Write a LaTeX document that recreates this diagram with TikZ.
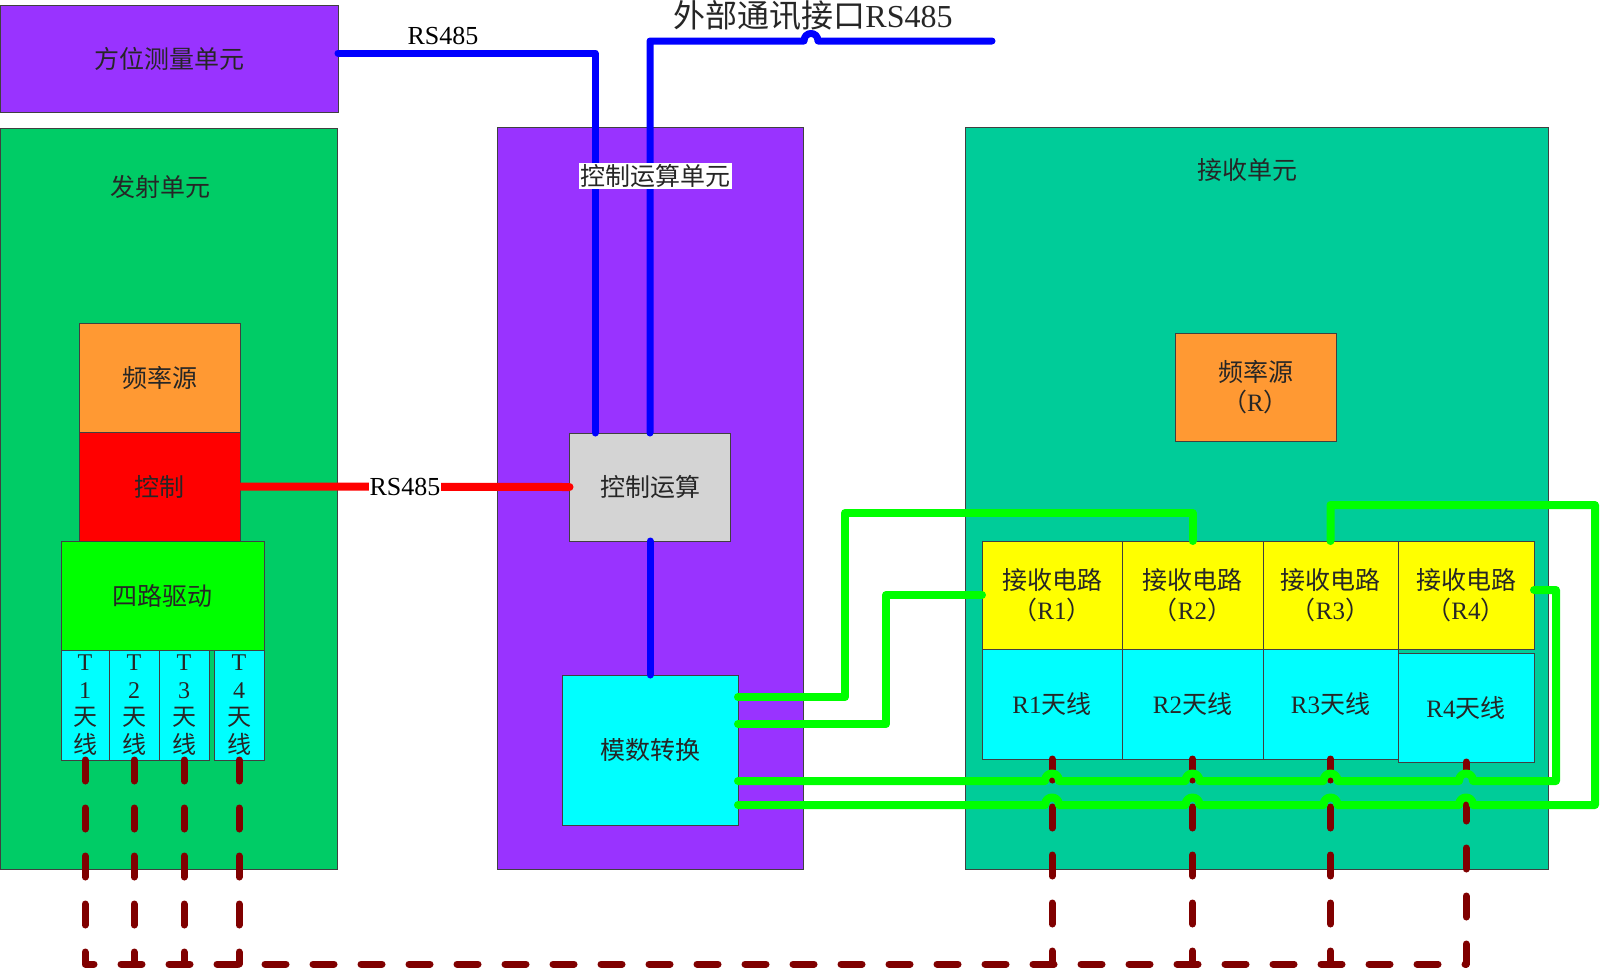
\documentclass[tikz,border=0pt]{standalone}
\usepackage{fontspec}
\setmainfont{Liberation Serif}
\newfontfamily\cjk{Noto Sans CJK SC}
\usetikzlibrary{calc}
\definecolor{purp}{HTML}{9933FF}
\definecolor{txgreen}{HTML}{00CC66}
\definecolor{rxteal}{HTML}{00CC99}
\definecolor{orng}{HTML}{FF9933}
\definecolor{brgreen}{HTML}{00FF00}
\definecolor{cyn}{HTML}{00FFFF}
\definecolor{gry}{HTML}{D4D4D4}
\definecolor{yel}{HTML}{FFFF00}
\definecolor{dred}{HTML}{800000}
\definecolor{bordr}{HTML}{404040}
\newcommand{\latn}[1]{{\rmfamily #1}}
\tikzset{
 box/.style={draw=bordr, line width=0.7pt, inner sep=0pt, outer sep=0pt, align=center,
   font=\cjk\fontsize{25}{30}\selectfont, text=black!85},
 titlelbl/.style={font=\cjk\fontsize{25}{30}\selectfont, inner sep=1pt, text=black!85},
 rslbl/.style={font=\rmfamily\fontsize{26}{30}\selectfont, inner sep=1pt, fill=white},
 bline/.style={draw=blue, line width=7pt, line cap=round, line join=round},
 gline/.style={draw=brgreen, line width=8pt, line cap=round, line join=round},
 rline/.style={draw=red, line width=8pt, line cap=round},
 tline/.style={draw=dred, line width=7pt, dash pattern=on 21pt off 27pt, line cap=round, line join=round},
 hop/.style args={#1/#2}{insert path={-- ({#1-7},#2) .. controls ({#1-7},{#2-10}) and ({#1+7},{#2-10}) .. ({#1+7},#2)}}
}
\begin{document}
\begin{tikzpicture}[x=1pt,y=-1pt]
\useasboundingbox (0,0) rectangle (1600,970);
% containers
\node[box, fill=purp, minimum width=337.5pt, minimum height=107pt] (fangwei) at (169.25,58.5) {方位测量单元};
\node[box, fill=txgreen, minimum width=336.5pt, minimum height=741pt] (fashe) at (168.75,498.5) {};
\node[titlelbl] (fasheT) at (160,187) {发射单元};
\node[box, fill=purp, minimum width=306pt, minimum height=742pt] (kzunit) at (650,498) {};
\node[box, fill=rxteal, minimum width=583pt, minimum height=742pt] (jsunit) at (1256.5,498) {};
\node[titlelbl] (jsT) at (1247,170) {接收单元};
% transmitter
\node[box, fill=orng, minimum width=161pt, minimum height=109pt] (pinL) at (159.5,377.5) {频率源};
\node[box, fill=red, minimum width=161pt, minimum height=109pt] (kz) at (159.5,486.5) {控制};
\node[box, fill=brgreen, minimum width=203pt, minimum height=109pt] (silu) at (162.5,595.5) {四路驱动};
\tikzset{tant/.style={box, fill=cyn, minimum width=48pt, minimum height=110pt, font=\cjk\fontsize{24}{27.5}\selectfont}}
\node[tant, minimum width=48pt] (T1) at (85,705) {\latn{T}\\\latn{1}\\天\\线};
\node[tant, minimum width=50pt] (T2) at (134,705) {\latn{T}\\\latn{2}\\天\\线};
\node[tant, minimum width=50pt] (T3) at (184,705) {\latn{T}\\\latn{3}\\天\\线};
\node[tant, minimum width=50pt] (T4) at (239,705) {\latn{T}\\\latn{4}\\天\\线};
% control unit
\node[box, fill=gry, minimum width=161pt, minimum height=108pt] (kzys) at (650,487) {控制运算};
\node[box, fill=cyn, minimum width=176pt, minimum height=150pt] (mszh) at (650,750) {模数转换};
% receiver
\node[box, fill=orng, minimum width=161pt, minimum height=108pt] (pinR) at (1255.5,387) {频率源\\（\latn{R}）};
\node[box, fill=yel, minimum width=140pt, minimum height=108pt] (js1) at (1052,595) {接收电路\\（\latn{R1}）};
\node[box, fill=yel, minimum width=141pt, minimum height=108pt] (js2) at (1192.5,595) {接收电路\\（\latn{R2}）};
\node[box, fill=yel, minimum width=135pt, minimum height=108pt] (js3) at (1330.5,595) {接收电路\\（\latn{R3}）};
\node[box, fill=yel, minimum width=136pt, minimum height=108pt] (js4) at (1466,595) {接收电路\\（\latn{R4}）};
\node[box, fill=cyn, minimum width=140pt, minimum height=110pt] (R1) at (1052,704) {\latn{R1}天线};
\node[box, fill=cyn, minimum width=141pt, minimum height=110pt] (R2) at (1192.5,704) {\latn{R2}天线};
\node[box, fill=cyn, minimum width=135pt, minimum height=110pt] (R3) at (1330.5,704) {\latn{R3}天线};
\node[box, fill=cyn, minimum width=136pt, minimum height=109pt] (R4) at (1466,707.5) {\latn{R4}天线};
% antenna links (dashed)
\coordinate (busL) at (85,964);
\coordinate (busR) at (1466,964);
\draw[tline] (T1.south) -- (busL) -- (busR) -- (R4.south);
\draw[tline] (T2.south) -- (T2.south |- busL);
\draw[tline] (T3.south) -- (T3.south |- busL);
\draw[tline] (T4.south) -- (T4.south |- busL);
\draw[tline] (R1.south) -- (R1.south |- busL);
\draw[tline] (R2.south) -- (R2.south |- busL);
\draw[tline] (R3.south) -- (R3.south |- busL);
% green signal lines
\coordinate (g1a) at (845,513);
\coordinate (g2a) at (886,595);
\coordinate (g3a) at (1556,590);
\coordinate (g4a) at (1595,505);
\draw[gline] ([yshift=53pt]mszh.east) -| (g1a) -| (js2.north);
\draw[gline] ([yshift=26pt]mszh.east) -| (g2a) -- (js1.west);
\draw[gline] ([yshift=-31pt]mszh.east) [hop=1052/781] [hop=1192.5/781] [hop=1330.5/781] [hop=1466/781] -| (g3a) -- ([yshift=5pt]js4.east);
\draw[gline] ([yshift=-55pt]mszh.east) [hop=1052/805] [hop=1192.5/805] [hop=1330.5/805] [hop=1466/805] -| (g4a) -| (js3.north);
% blue lines
\coordinate (extB) at (992,41);
\draw[bline] ([yshift=5.5pt]fangwei.east) -| ([xshift=-55pt]kzys.north);
\draw[bline] (kzys.north) -- (kzys.north |- extB) [hop=811/41] -- (extB);
\draw[bline] (kzys.south) -- (mszh.north);
% red line
\draw[rline] (kz.east) -- (kzys.west);
% labels
\node[rslbl] (rsred) at (405,487) {RS485};
\node[rslbl, fill=none] (rstop) at (443,36) {RS485};
\node[titlelbl, fill=white, inner sep=1.5pt] (kzT) at (655,176) {控制运算单元};
\node[font=\fontsize{32}{36}\selectfont, inner sep=1pt, text=black!85] (ext) at (813,16) {{\cjk 外部通讯接口}RS485};
\end{tikzpicture}
\end{document}
